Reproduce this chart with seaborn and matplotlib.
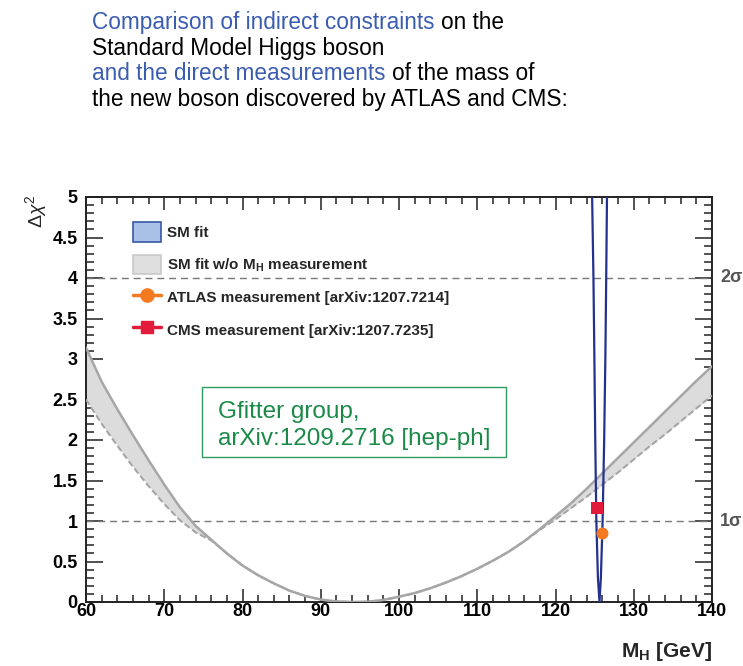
import matplotlib
matplotlib.use("Agg")
import pandas as pd
import seaborn as sns
import matplotlib.pyplot as plt
from matplotlib.patches import Patch, Rectangle
from matplotlib.lines import Line2D
from matplotlib.ticker import MultipleLocator

MH_GRID = [60, 62, 64, 66, 68, 70, 72, 74, 76, 78, 80, 82, 84, 86, 88, 90, 92, 94,
           96, 98, 100, 102, 104, 106, 108, 110, 112, 114, 116, 118, 120, 122, 124,
           126, 128, 130, 132, 134, 136, 138, 140]
CHI2_UPPER = [3.14, 2.72, 2.38, 2.06, 1.75, 1.45, 1.17, 0.94, 0.77, 0.60, 0.45, 0.33,
              0.23, 0.14, 0.075, 0.03, 0.007, 0.0, 0.003, 0.025, 0.065, 0.11, 0.17,
              0.24, 0.32, 0.41, 0.51, 0.62, 0.75, 0.90, 1.06, 1.22, 1.40, 1.59, 1.78,
              1.97, 2.16, 2.35, 2.54, 2.73, 2.91]
CHI2_LOWER = [2.50, 2.20, 1.93, 1.67, 1.43, 1.21, 1.01, 0.86, 0.76, 0.60, 0.45, 0.33,
              0.23, 0.14, 0.075, 0.03, 0.007, 0.0, 0.003, 0.025, 0.065, 0.11, 0.17,
              0.24, 0.32, 0.41, 0.51, 0.62, 0.75, 0.89, 1.02, 1.16, 1.30, 1.45, 1.60,
              1.76, 1.92, 2.07, 2.23, 2.39, 2.55]

# full SM fit (with M_H measurement)
SMFIT_MH = [124.64, 124.68, 124.85, 124.97, 125.08, 125.22, 125.42, 125.62, 125.80,
            126.02, 126.22, 126.37, 126.48, 126.58, 126.61]
SMFIT_CHI2 = [5.3, 5.0, 4.0, 3.0, 2.0, 1.0, 0.3, 0.0, 0.3, 1.0, 2.0, 3.0, 4.0, 5.0, 5.3]

# direct measurements (drawn at arbitrary height)
ATLAS_MH = [125.95]
ATLAS_Y = [0.855]
CMS_MH = [125.3]
CMS_Y = [1.157]

SIGMA_LEVELS = [1, 4]
SIGMA_LABELS = ["1σ", "2σ"]

LEGEND_LABELS = ["SM fit", "SM fit w/o M$_\\mathbf{H}$ measurement",
                 "ATLAS measurement [arXiv:1207.7214]",
                 "CMS measurement [arXiv:1207.7235]"]

TITLE_LINES = [
    [("Comparison of indirect constraints", "blue"), ("on the", "black")],
    [("Standard Model Higgs boson", "black")],
    [("and the direct measurements", "blue"), ("of the mass of", "black")],
    [("the new boson discovered by ATLAS and CMS:", "black")],
]

BLUE_TXT = "#3b5db0"
GREEN = "#1b8a48"
NAVY = "#25318f"
ORANGE = "#f47a22"
RED = "#e21b3c"
BAND = "#dcdcdc"
BAND_EDGE = "#a6a6a6"

sns.set_theme(style="ticks")
plt.rcParams["font.family"] = ["Liberation Sans", "DejaVu Sans"]
plt.rcParams["mathtext.fontset"] = "custom"
plt.rcParams["mathtext.rm"] = "Liberation Sans"
plt.rcParams["mathtext.it"] = "Liberation Sans:italic"
plt.rcParams["mathtext.bf"] = "Liberation Sans:bold"

fig = plt.figure(figsize=(7.43, 6.66), dpi=100)
W, H = 743, 666
ax = fig.add_axes([86 / W, 1 - 602 / H, 626 / W, 405 / H])

df = pd.DataFrame({"mh": MH_GRID, "up": CHI2_UPPER, "lo": CHI2_LOWER})
sm = pd.DataFrame({"mh": SMFIT_MH, "chi2": SMFIT_CHI2})

for lvl in SIGMA_LEVELS:
    ax.axhline(lvl, color="#777777", lw=1.0, ls=(0, (5, 3.5)), zorder=1)

ax.fill_between(df["mh"], df["lo"], df["up"], color=BAND, lw=0, zorder=2)
sns.lineplot(data=df, x="mh", y="lo", ax=ax, color=BAND_EDGE, lw=1.5,
             linestyle=(0, (3, 1.5)), zorder=3, legend=False)
sns.lineplot(data=df, x="mh", y="up", ax=ax, color=BAND_EDGE, lw=1.8, zorder=3,
             legend=False)
sns.lineplot(data=sm, x="mh", y="chi2", ax=ax, color=NAVY, lw=1.6, sort=False,
             zorder=4, legend=False)

sns.scatterplot(x=CMS_MH, y=CMS_Y, ax=ax, marker="s", s=75, color=RED, lw=0,
                zorder=6, legend=False)
sns.scatterplot(x=ATLAS_MH, y=ATLAS_Y, ax=ax, marker="o", s=75, color=ORANGE, lw=0,
                zorder=6, legend=False)

ax.set_xlim(60, 140)
ax.set_ylim(0, 5)
ax.set_xlabel("")
ax.set_ylabel("")
ax.xaxis.set_major_locator(MultipleLocator(10))
ax.xaxis.set_minor_locator(MultipleLocator(2))
ax.yaxis.set_minor_locator(MultipleLocator(0.1))
ax.set_yticks([0, 0.5, 1, 1.5, 2, 2.5, 3, 3.5, 4, 4.5, 5])
ax.set_yticklabels(["0", "0.5", "1", "1.5", "2", "2.5", "3", "3.5", "4", "4.5", "5"])
for s in ax.spines.values():
    s.set_linewidth(1.4)
    s.set_color("#222222")
ax.tick_params(which="both", direction="in", top=True, right=True,
               width=1.1, colors="#222222", labelcolor="black")
ax.tick_params(axis="x", which="major", length=9.5, pad=1, labelsize=13)
ax.tick_params(axis="x", which="minor", length=5)
ax.tick_params(axis="y", which="major", length=12.5, pad=6, labelsize=13)
ax.tick_params(axis="y", which="minor", length=6)
for lab in ax.get_xticklabels() + ax.get_yticklabels():
    lab.set_fontweight("bold")

for lvl, lab in zip(SIGMA_LEVELS, SIGMA_LABELS):
    ax.annotate(lab, xy=(1, lvl), xycoords=("axes fraction", "data"),
                xytext=(6, 0), textcoords="offset points", ha="left", va="center",
                fontsize=13, fontweight="bold", color="#555555")

handles = [
    Patch(facecolor="#a9c1e6", edgecolor="#3a57a7", lw=1.2),
    Patch(facecolor="#dedede", edgecolor="#c9c9c9", lw=1.2),
    Line2D([], [], color=ORANGE, lw=2.5, marker="o", markersize=9.5),
    Line2D([], [], color=RED, lw=2.5, marker="s", markersize=9),
]
leg = ax.legend(handles, LEGEND_LABELS, loc="upper left",
                bbox_to_anchor=(47 / 626, (602 - 222) / 405), frameon=False,
                borderpad=0, borderaxespad=0, handlelength=1.8, handleheight=1.6,
                handletextpad=0.4, labelspacing=0.85,
                prop={"size": 11, "weight": "bold"})

# Gfitter box
fig.patches.append(Rectangle((202 / W, 1 - 457 / H), 304 / W, 70 / H,
                             transform=fig.transFigure, fill=False,
                             edgecolor="#2e9a5c", lw=1.0, zorder=5))
fig.text(218 / W, 1 - 418 / H, "Gfitter group,", color=GREEN, fontsize=17.5,
         va="baseline", ha="left")
fig.text(218 / W, 1 - 445 / H, "arXiv:1209.2716 [hep-ph]", color=GREEN,
         fontsize=17.5, va="baseline", ha="left")

# axis titles
fig.text(36 / W, 1 - 211 / H, r"$\Delta\chi^2$", rotation=90, ha="center",
         va="center", fontsize=14)
fig.text(712 / W, 1 - 657 / H, r"$\mathbf{M_H}$ [GeV]", ha="right", va="baseline",
         fontsize=15, fontweight="bold")

# multi-colour header text
renderer = fig.canvas.get_renderer()
tsize = 16.3
t1 = fig.text(0, 0, "a a", fontsize=tsize)
t2 = fig.text(0, 0, "aa", fontsize=tsize)
space = (t1.get_window_extent(renderer).width - t2.get_window_extent(renderer).width)
t1.remove()
t2.remove()
baselines = [29, 54.7, 80.3, 106]
for parts, yb in zip(TITLE_LINES, baselines):
    xpix = 92.0
    for txt, col in parts:
        t = fig.text(xpix / W, 1 - yb / H, txt, fontsize=tsize, va="baseline",
                     ha="left", color=BLUE_TXT if col == "blue" else "black")
        xpix += t.get_window_extent(renderer).width + space

fig.savefig("out.png", dpi=100)
